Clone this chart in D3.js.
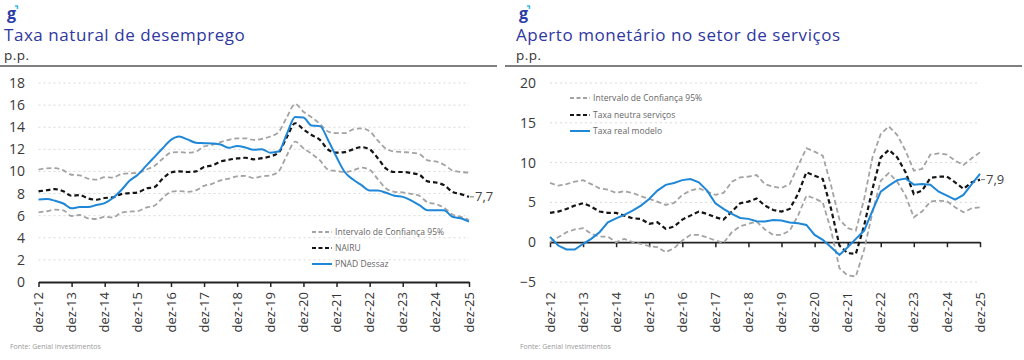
<!DOCTYPE html>
<html><head><meta charset="utf-8">
<script src="https://cdn.jsdelivr.net/npm/d3@7"></script>
<style>
body{margin:0;background:#fff}
svg{display:block}
text{font-family:"Open Sans","Noto Sans",sans-serif}
</style>
</head><body>
<svg id="c" width="1024" height="360"></svg>
<script>
// ---------- DATA ----------
const tickLabels = ["dez-12","dez-13","dez-14","dez-15","dez-16","dez-17","dez-18","dez-19","dez-20","dez-21","dez-22","dez-23","dez-24","dez-25"];
const tickYears = [2012,2013,2014,2015,2016,2017,2018,2019,2020,2021,2022,2023,2024,2025];

// Left: Taxa natural de desemprego (quarterly, dez-12 .. dez-25)
const leftUpper = [10.16,10.28,10.3,10.1,9.7,9.65,9.35,9.26,9.48,9.45,9.75,9.83,9.86,10.16,10.5,11.15,11.7,11.75,11.7,11.8,12.26,12.4,12.65,12.86,13.0,13.0,12.86,
  12.95,13.16,13.55,14.9,16.1,15.4,14.9,14.3,13.6,13.46,13.46,13.8,13.9,13.64,12.8,12.05,11.8,11.75,11.7,11.57,11.0,10.9,10.6,10.1,9.95,9.9];
const leftNairu = [8.2,8.3,8.4,8.2,7.8,7.86,7.56,7.44,7.6,7.65,7.95,8.04,8.1,8.46,8.58,9.35,9.9,10.0,9.95,10.0,10.4,10.55,10.9,11.06,11.18,11.24,11.1,
  11.2,11.36,11.7,13.1,14.36,13.8,13.3,12.86,11.96,11.7,11.75,12.0,12.2,12.0,11.2,10.25,9.95,9.95,9.86,9.7,9.1,9.0,8.76,8.16,7.95,7.7];
const leftLower = [6.3,6.4,6.54,6.48,5.97,6.06,5.76,5.7,5.9,5.82,6.27,6.36,6.42,6.72,6.9,7.6,8.16,8.22,8.16,8.28,8.7,8.88,9.2,9.35,9.56,9.6,9.4,
  9.56,9.65,10.0,11.45,12.7,12.1,11.6,11.0,10.16,10.04,9.95,10.1,10.34,10.16,9.3,8.46,8.16,8.1,7.98,7.8,7.2,7.05,6.72,6.1,5.9,5.6];
const leftPnad = [7.47,7.5,7.35,7.1,6.66,6.78,6.78,6.96,7.14,7.6,8.3,9.15,9.7,10.5,11.3,12.1,12.86,13.16,12.9,12.6,12.56,12.53,12.44,12.14,12.3,12.17,11.96,
  12.0,11.7,11.8,13.4,14.93,14.87,14.15,14.1,12.8,11.3,9.95,9.27,8.76,8.28,8.28,8.07,7.8,7.7,7.38,6.96,6.5,6.5,6.48,5.9,5.76,5.46];
const leftTicks = [0,2,4,6,8,10,12,14,16,18];
const leftNames = ["Intervalo de Confiança 95%","NAIRU","PNAD Dessaz"];

// Right: Aperto monetário no setor de serviços
const rightUpper = [7.44,7.1,7.3,7.6,7.8,7.3,6.77,6.6,6.19,6.4,6.19,5.77,5.43,5.1,4.68,4.93,5.94,6.48,6.77,6.35,5.94,6.19,7.6,8.15,8.24,8.44,7.3,
  6.98,6.81,7.3,9.6,11.8,11.37,10.87,7.1,2.84,1.76,1.46,5.43,10.66,13.6,14.55,13.46,11.5,8.99,9.2,11.0,11.16,11.0,10.24,9.7,10.54,11.29];
const rightNeutral = [3.68,3.85,4.18,4.6,4.9,4.47,3.85,3.68,3.68,3.34,3.0,2.93,2.3,2.5,1.67,1.96,2.84,3.34,3.85,3.55,3.13,2.84,3.85,4.9,5.1,5.5,4.6,
  4.05,3.85,4.18,6.06,8.78,8.36,7.94,4.18,-0.42,-1.38,-1.46,2.1,6.7,10.66,11.6,10.66,8.78,6.06,6.48,8.07,8.24,8.24,7.52,6.7,7.52,7.86];
const rightLower = [0,0.63,1.25,1.6,1.76,1.05,0.71,0.71,0,0.42,0,-0.2,-0.5,-0.63,-1.25,-0.75,0.21,0.92,0.92,0.6,0.21,-0.1,1.25,2.0,2.3,2.6,1.6,
  0.92,0.92,1.46,3.34,5.85,5.5,5.0,1.46,-3.26,-4.18,-4.3,-0.92,3.76,7.73,8.7,7.6,5.85,3.13,3.85,5.1,5.23,5.14,4.39,3.76,4.26,4.39];
const rightReal = [0.67,-0.42,-0.92,-0.92,-0.2,0.42,1.25,2.5,3.0,3.43,3.97,4.6,5.43,6.48,7.2,7.44,7.8,7.94,7.52,6.48,4.9,4.18,3.55,3.05,2.93,2.63,2.6,
  2.8,2.72,2.47,2.38,2.17,0.92,0.3,-0.63,-1.6,-0.63,0.42,1.46,3.97,6.35,7.1,7.8,8.0,7.23,7.3,7.23,6.35,5.85,5.35,5.94,7.3,8.57];
const rightTicks = [-5,0,5,10,15,20];
const rightNames = ["Intervalo de Confiança 95%","Taxa neutra serviços","Taxa real modelo"];

const leftLabel = "7,7", rightLabel = "7,9";

// ---------- DRAW ----------
const svg = d3.select("#c");
const quarters = leftPnad.map((_, i) => d3.timeMonth.offset(new Date(2012, 11, 1), 3 * i));
const BLUE = "#1f87d8", GRAY = "#a3a3a3", BLACK = "#141414";

function panel(o) {
  const g = svg.append("g");
  const x = d3.scaleTime().domain([quarters[0], quarters[quarters.length - 1]]).range(o.xr);
  const y = d3.scaleLinear().domain(o.yd).range([282, 83]);

  // header
  g.append("text").attr("x", o.hx + 3).attr("y", 19).attr("fill", "#2b3ba6")
    .attr("font-size", 16).attr("font-weight", 700).text("g");
  g.append("path").attr("d", `M${o.hx+11},6 l2.5,0 l0,3`).attr("stroke", "#35b8e8").attr("stroke-width", 1.5).attr("fill", "none");
  g.append("text").attr("x", o.hx).attr("y", 41).attr("fill", "#2f37a0").attr("font-size", 17)
    .attr("letter-spacing", 0.55).text(o.title);
  g.append("text").attr("x", o.hx).attr("y", 60).attr("fill", "#333").attr("font-size", 13.5)
    .attr("letter-spacing", 0.5).text("p.p.");
  g.append("line").attr("x1", o.sep[0]).attr("x2", o.sep[1]).attr("y1", 66).attr("y2", 66)
    .attr("stroke", "#555").attr("stroke-width", 1.5);

  // grid
  g.append("g").selectAll("line").data(o.ticks.filter(t => t !== o.axisAt)).join("line")
    .attr("x1", o.xr[0]).attr("x2", o.xr[1]).attr("y1", d => y(d)).attr("y2", d => y(d))
    .attr("stroke", "#d9d9d9").attr("stroke-width", 1).attr("stroke-dasharray", "2,3");

  // y labels
  const ya = g.append("g").attr("transform", `translate(${o.ylx},0)`)
    .call(d3.axisLeft(y).tickValues(o.ticks).tickSize(0).tickFormat(d => d < 0 ? "\u2212" + Math.abs(d) : d));
  ya.select(".domain").remove();
  ya.selectAll("text").attr("font-size", 14).attr("fill", "#3a3a3a").attr("font-family", "Open Sans").attr("x", 0);

  // x axis
  const tickDates = tickYears.map(yr => new Date(yr, 11, 1));
  const xa = g.append("g").attr("transform", `translate(0,${y(o.axisAt)})`)
    .call(d3.axisBottom(x).tickValues(tickDates).tickSize(5).tickSizeOuter(0).tickFormat(() => ""));
  xa.select(".domain").attr("stroke", "#222").attr("stroke-width", 1.8);
  xa.selectAll(".tick line").attr("stroke", "#222").attr("stroke-width", 1.5);

  // rotated tick labels at bottom
  g.append("g").selectAll("text").data(tickDates).join("text")
    .attr("transform", (d) => `translate(${x(d)},292) rotate(-90)`)
    .attr("text-anchor", "end").attr("dy", "0.35em")
    .attr("font-size", 13).attr("fill", "#333")
    .text((d, i) => tickLabels[i]);

  const line = d3.line().x((d, i) => x(quarters[i])).y(d => y(d)).curve(o.curve);
  const series = [
    {v: o.upper, c: GRAY, w: 1.8, da: "5,3"},
    {v: o.lower, c: GRAY, w: 1.8, da: "5,3"},
    {v: o.mid, c: BLACK, w: 2.2, da: "4.5,3"},
    {v: o.real, c: BLUE, w: 2, da: null}
  ];
  g.append("g").selectAll("path").data(series).join("path")
    .attr("d", d => line(d.v)).attr("fill", "none")
    .attr("stroke", d => d.c).attr("stroke-width", d => d.w)
    .attr("stroke-dasharray", d => d.da);

  // end label
  const last = o.mid[o.mid.length - 1];
  const ex = x(quarters[quarters.length - 1]);
  g.append("line").attr("x1", ex + 1).attr("x2", ex + 5).attr("y1", y(last)).attr("y2", y(last))
    .attr("stroke", "#777").attr("stroke-width", 1);
  g.append("text").attr("x", ex + 6).attr("y", y(last)).attr("dy", "0.35em")
    .attr("font-size", 13).attr("fill", "#444").text(o.label);

  // legend
  const leg = g.append("g");
  const ls = [
    {c: GRAY, w: 1.8, da: "4,2.5"},
    {c: BLACK, w: 2.2, da: "4,2.5"},
    {c: BLUE, w: 2, da: null}
  ];
  o.names.forEach((n, i) => {
    const yy = o.legY[i];
    leg.append("line").attr("x1", o.legX).attr("x2", o.legX + 20).attr("y1", yy).attr("y2", yy)
      .attr("stroke", ls[i].c).attr("stroke-width", ls[i].w).attr("stroke-dasharray", ls[i].da);
    leg.append("text").attr("x", o.legX + 23).attr("y", yy).attr("dy", "0.35em")
      .attr("font-size", 8.5).attr("letter-spacing", 0.05).attr("fill", "#666").text(n);
  });

  // source
  g.append("text").attr("x", o.srcX).attr("y", 349).attr("font-size", 7).attr("fill", "#999").text("Fonte: Genial Investimentos");
}

panel({
  title: "Taxa natural de desemprego", hx: 4, sep: [0, 497],
  xr: [38.5, 469], yd: [0, 18], ticks: leftTicks, axisAt: 0, ylx: 25,
  upper: leftUpper, lower: leftLower, mid: leftNairu, real: leftPnad,
  curve: d3.curveMonotoneX, label: leftLabel, names: leftNames,
  legX: 312, legY: [232, 248, 264], srcX: 10
});
panel({
  title: "Aperto monetário no setor de serviços", hx: 516, sep: [505, 1022],
  xr: [550, 980], yd: [-5, 20], ticks: rightTicks, axisAt: 0, ylx: 536,
  upper: rightUpper, lower: rightLower, mid: rightNeutral, real: rightReal,
  curve: d3.curveLinear, label: rightLabel, names: rightNames,
  legX: 570, legY: [98, 115, 131], srcX: 520
});
</script>
</body></html>
